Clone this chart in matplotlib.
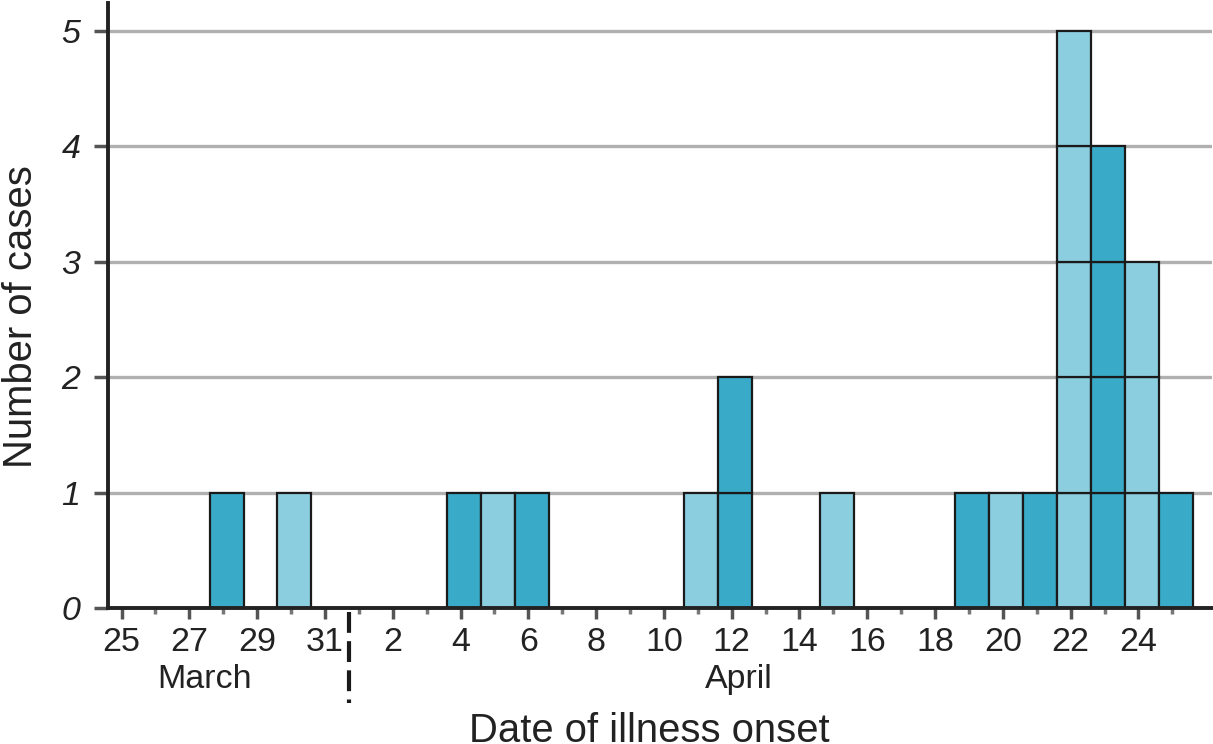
import matplotlib
matplotlib.use("Agg")
import matplotlib.pyplot as plt
import matplotlib.transforms as mtransforms

plt.rcParams["font.family"] = ["Liberation Sans", "DejaVu Sans"]

# days counted from March 25 (index 0) to April 25 (index 31)
day_labels = ["25", "27", "29", "31", "2", "4", "6", "8", "10", "12",
              "14", "16", "18", "20", "22", "24"]
case_days = [3, 5, 10, 11, 12, 17, 18, 21, 25, 26, 27, 28, 29, 30, 31]
case_counts = [1, 1, 1, 1, 1, 1, 2, 1, 1, 1, 1, 5, 4, 3, 1]
case_shade = ["dark", "light", "dark", "light", "dark", "light", "dark", "light",
              "dark", "light", "dark", "light", "dark", "light", "dark"]
months = ["March", "April"]
month_pos = [2.45, 18.2]
month_split = 6.7

colors = {"dark": "#39abc9", "light": "#8bcedf"}
text_color = "#222222"


def main():
    fig = plt.figure(figsize=(12.13, 7.44), dpi=100)
    ax = fig.add_axes([108 / 1213, 136 / 744, 1104 / 1213, 605 / 744])

    # one box per case (bars sit a hair right of the tick marks, as in the original)
    for day, count, shade in zip(case_days, case_counts, case_shade):
        for k in range(count):
            ax.bar(day + 0.1, 1, bottom=k, width=1.0, color=colors[shade],
                   edgecolor="#1a1a1a", linewidth=1.6, zorder=3)

    ax.set_xlim(-0.4, 32.17)
    ax.set_ylim(0, 5.24)

    ax.set_yticks(range(6))
    ax.set_yticklabels([str(i) for i in range(6)], fontstyle="italic")
    for y in range(1, 6):
        ax.axhline(y, color="#b0b0b0", linewidth=2.4, zorder=1)

    ax.set_xticks(range(0, 31, 2))
    ax.set_xticklabels(day_labels)
    ax.set_xticks(range(1, 32, 2), minor=True)

    ax.tick_params(axis="both", which="major", labelsize=24.5, colors="#555555",
                   labelcolor=text_color, width=2.5)
    ax.tick_params(axis="x", which="major", length=8, pad=6)
    ax.tick_params(axis="x", which="minor", length=4, width=2.5, colors="#777777")
    ax.tick_params(axis="y", which="major", length=10, pad=10)

    for side in ["top", "right"]:
        ax.spines[side].set_visible(False)
    for side in ["left", "bottom"]:
        ax.spines[side].set_linewidth(2.8)
        ax.spines[side].set_color(text_color)
        ax.spines[side].set_zorder(4)

    trans = mtransforms.blended_transform_factory(ax.transData, ax.transAxes)
    for name, pos in zip(months, month_pos):
        ax.text(pos, -0.119, name, transform=trans, ha="center", va="center",
                fontsize=24.5, color=text_color)
    ax.plot([month_split, month_split], [-0.007, -0.157], transform=trans,
            color="#1a1a1a", linewidth=3, linestyle=(0, (5, 2)),
            clip_on=False, zorder=5)

    ax.set_xlabel("Date of illness onset", fontsize=28.8, color=text_color)
    ax.xaxis.set_label_coords(0.49, -0.172)
    ax.set_ylabel("Number of cases", fontsize=28.8, color=text_color)
    ax.yaxis.set_label_coords(-0.062, 0.481)

    fig.savefig("out.png", dpi=100)


if __name__ == "__main__":
    main()
